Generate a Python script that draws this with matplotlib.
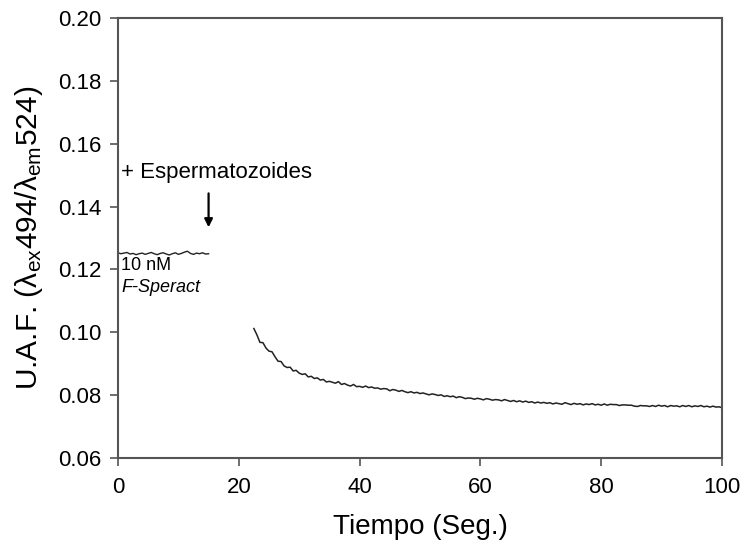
import matplotlib
matplotlib.use("Agg")
import matplotlib.pyplot as plt
import numpy as np

plt.rcParams['font.family'] = ['Liberation Sans', 'DejaVu Sans']
plt.rcParams['mathtext.fontset'] = 'custom'
plt.rcParams['mathtext.rm'] = 'Liberation Sans'
plt.rcParams['mathtext.it'] = 'Liberation Sans:italic'

# Segment before sperm addition (t = 0 .. 15 s, every 0.5 s)
t_before_start, t_before_step = 0.0, 0.5
uaf_before = [0.1253, 0.1250, 0.1252, 0.1254, 0.1249, 0.1251, 0.1247, 0.1250, 0.1252, 0.1248,
              0.1251, 0.1254, 0.1250, 0.1247, 0.1251, 0.1253, 0.1249, 0.1246, 0.1250, 0.1253,
              0.1248, 0.1251, 0.1255, 0.1258, 0.1251, 0.1248, 0.1252, 0.1250, 0.1253, 0.1249,
              0.1250]

# Segment after sperm addition (t = 22.5 .. 100 s, every 0.5 s)
t_after_start, t_after_step = 22.5, 0.5
uaf_after = [0.1012, 0.0992, 0.0968, 0.0967, 0.0950, 0.0940, 0.0938, 0.0922, 0.0908, 0.0907,
             0.0893, 0.0888, 0.0889, 0.0877, 0.0879, 0.0870, 0.0866, 0.0868, 0.0858, 0.0860,
             0.0853, 0.0855, 0.0848, 0.0850, 0.0842, 0.0844, 0.0841, 0.0838, 0.0843, 0.0834,
             0.0837, 0.0832, 0.0829, 0.0834, 0.0827, 0.0828, 0.0825, 0.0829, 0.0824, 0.0826,
             0.0822, 0.0823, 0.0819, 0.0821, 0.0820, 0.0814, 0.0818, 0.0816, 0.0812, 0.0815,
             0.0811, 0.0808, 0.0811, 0.0807, 0.0809, 0.0805, 0.0807, 0.0804, 0.0801, 0.0804,
             0.0802, 0.0799, 0.0801, 0.0796, 0.0798, 0.0795, 0.0797, 0.0792, 0.0795, 0.0793,
             0.0789, 0.0791, 0.0790, 0.0787, 0.0790, 0.0788, 0.0785, 0.0789, 0.0787, 0.0784,
             0.0786, 0.0785, 0.0782, 0.0786, 0.0783, 0.0780, 0.0783, 0.0779, 0.0782, 0.0778,
             0.0781, 0.0777, 0.0779, 0.0775, 0.0778, 0.0775, 0.0777, 0.0774, 0.0776, 0.0772,
             0.0775, 0.0773, 0.0771, 0.0776, 0.0773, 0.0770, 0.0774, 0.0771, 0.0773, 0.0769,
             0.0772, 0.0770, 0.0773, 0.0769, 0.0771, 0.0768, 0.0772, 0.0768, 0.0771, 0.0770,
             0.0770, 0.0767, 0.0769, 0.0769, 0.0768, 0.0768, 0.0765, 0.0764, 0.0767, 0.0766,
             0.0766, 0.0764, 0.0767, 0.0764, 0.0768, 0.0765, 0.0767, 0.0763, 0.0767, 0.0765,
             0.0766, 0.0763, 0.0767, 0.0764, 0.0767, 0.0763, 0.0766, 0.0764, 0.0767, 0.0763,
             0.0765, 0.0762, 0.0765, 0.0762, 0.0763, 0.0760]

x_ticks = [0, 20, 40, 60, 80, 100]
y_ticks = [0.06, 0.08, 0.10, 0.12, 0.14, 0.16, 0.18, 0.20]
y_tick_labels = ["0.06", "0.08", "0.10", "0.12", "0.14", "0.16", "0.18", "0.20"]
x_label = "Tiempo (Seg.)"
y_label = "U.A.F. (λ$_{\\rm ex}$494/λ$_{\\rm em}$524)"
arrow_text = "+ Espermatozoides"
arrow_time = 15.0
conc_text = "10 nM"
peptide_text = "F-Speract"

t_before = t_before_start + t_before_step * np.arange(len(uaf_before))
t_after = t_after_start + t_after_step * np.arange(len(uaf_after))

fig = plt.figure(figsize=(7.41, 5.41), dpi=100)
ax = fig.add_axes([0.1592, 0.1534, 0.8152, 0.8133])

line_color = "#222222"
ax.plot(t_before, uaf_before, color=line_color, lw=1.0)
ax.plot(t_after, uaf_after, color=line_color, lw=1.1)

ax.set_xlim(0, 100)
ax.set_ylim(0.06, 0.20)
ax.set_xticks(x_ticks)
ax.set_yticks(y_ticks)
ax.set_yticklabels(y_tick_labels)
ax.tick_params(direction="out", length=6, width=1.2, color="#555555",
               labelsize=16, pad=6)
ax.tick_params(axis="x", pad=8)
for sp in ax.spines.values():
    sp.set_color("#555555")
    sp.set_linewidth(1.5)

ax.set_xlabel(x_label, fontsize=20, labelpad=11)
ax.set_ylabel(y_label, fontsize=21.5, labelpad=9)

ax.text(0.5, 0.1475, arrow_text, fontsize=16, ha="left", va="bottom")
ax.annotate("", xy=(arrow_time, 0.1334), xytext=(arrow_time, 0.1442),
            arrowprops=dict(arrowstyle="-|>", color="black", lw=1.6,
                            mutation_scale=12, shrinkA=0, shrinkB=0))
ax.text(0.5, 0.1212, conc_text, fontsize=13, ha="left", va="center")
ax.text(0.5, 0.1142, peptide_text, fontsize=13, ha="left", va="center",
        style="italic")

fig.savefig("out.png", dpi=100)
